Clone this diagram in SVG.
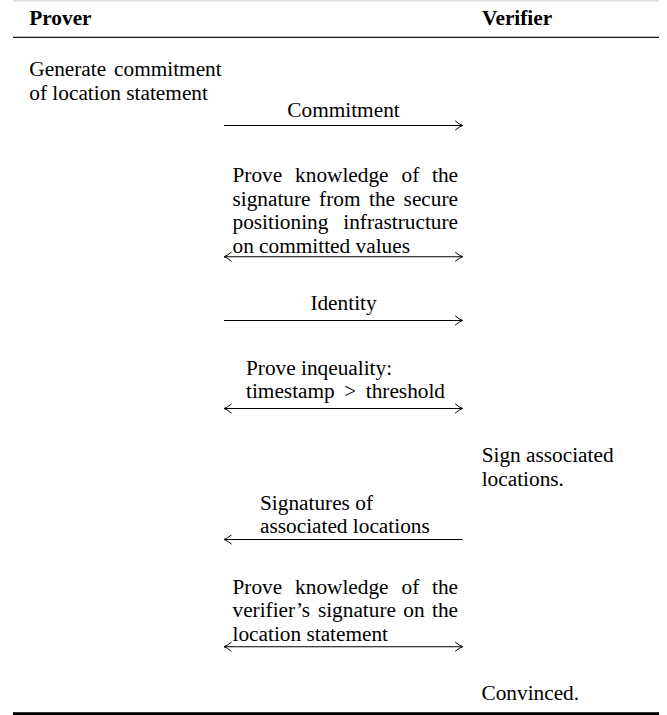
<svg xmlns="http://www.w3.org/2000/svg" width="667" height="715" viewBox="0 0 667 715">
  <style>
    text { font-family: "Liberation Serif", "Times New Roman", serif; font-size: 21.3px; fill: #000; }
    .hdr { font-weight: bold; }
    .end { text-anchor: end; }
    .mid { text-anchor: middle; }
    .conn { stroke: #000; stroke-width: 1.1; fill: none; }
  </style>
  <defs>
    <marker id="head" markerUnits="userSpaceOnUse" markerWidth="12" markerHeight="12" viewBox="-10 -6 12 12" refX="0" refY="0" orient="auto-start-reverse">
      <path d="M-7.5,-4.6 Q-3,-0.9 0,0 Q-3,0.9 -7.5,4.6" fill="none" stroke="#000" stroke-width="1"/>
    </marker>
  </defs>
  <rect x="0" y="0" width="667" height="715" fill="#fff"/>

  <!-- table rules -->
  <g id="rules">
    <rect x="13" y="0" width="646" height="1.4" fill="#dcdcdc"/>
    <rect x="13" y="36.7" width="646" height="1.3" fill="#1a1a1a"/>
    <rect x="13" y="712.2" width="646" height="2.8" fill="#000"/>
  </g>

  <g id="header-prover"><text class="hdr" x="29.3" y="25">Prover</text></g>
  <g id="header-verifier"><text class="hdr" x="482" y="25">Verifier</text></g>

  <g id="step-generate">
    <text x="29.3" y="76">Generate</text>
    <text class="end" x="221.7" y="76">commitment</text>
    <text x="29.3" y="99.6">of location statement</text>
  </g>

  <g id="msg-commitment">
    <text class="mid" x="343.5" y="116.7">Commitment</text>
  </g>

  <g id="msg-prove-signature">
    <text x="232.5" y="182">Prove</text>
    <text x="295.1" y="182">knowledge</text>
    <text x="401.5" y="182">of</text>
    <text class="end" x="458" y="182">the</text>
    <text x="232.5" y="205.6">signature</text>
    <text x="319.1" y="205.6">from</text>
    <text x="369" y="205.6">the</text>
    <text class="end" x="458" y="205.6">secure</text>
    <text x="232.5" y="229.2">positioning</text>
    <text class="end" x="458" y="229.2">infrastructure</text>
    <text x="232.5" y="252.6">on committed values</text>
  </g>

  <g id="msg-identity">
    <text class="mid" x="343.5" y="310">Identity</text>
  </g>

  <g id="msg-inequality">
    <text x="246" y="374.5">Prove inqeuality:</text>
    <text x="246" y="398">timestamp</text>
    <text class="mid" x="350.2" y="398">&gt;</text>
    <text class="end" x="445" y="398">threshold</text>
  </g>

  <g id="step-sign">
    <text x="481.7" y="461.7">Sign associated</text>
    <text x="481.7" y="485.7">locations.</text>
  </g>

  <g id="msg-signatures">
    <text x="260" y="510">Signatures of</text>
    <text x="260" y="533.3">associated locations</text>
  </g>

  <g id="msg-prove-verifier-signature">
    <text x="232.5" y="594">Prove</text>
    <text x="295.1" y="594">knowledge</text>
    <text x="401.5" y="594">of</text>
    <text class="end" x="458" y="594">the</text>
    <text x="232.5" y="617.4">verifier’s</text>
    <text x="317.9" y="617.4">signature</text>
    <text x="403.3" y="617.4">on</text>
    <text class="end" x="458" y="617.4">the</text>
    <text x="232.5" y="640.8">location statement</text>
  </g>

  <g id="step-convinced">
    <text x="481.5" y="700">Convinced.</text>
  </g>

  <g id="connectors">
    <line class="conn" x1="224" y1="125.5" x2="462.7" y2="125.5" marker-end="url(#head)"/>
    <line class="conn" x1="224" y1="256.7" x2="462.7" y2="256.7" marker-start="url(#head)" marker-end="url(#head)"/>
    <line class="conn" x1="224" y1="320.5" x2="462.7" y2="320.5" marker-end="url(#head)"/>
    <line class="conn" x1="224" y1="408.5" x2="462.7" y2="408.5" marker-start="url(#head)" marker-end="url(#head)"/>
    <line class="conn" x1="224" y1="539.5" x2="462.7" y2="539.5" marker-start="url(#head)"/>
    <line class="conn" x1="224" y1="646.7" x2="462.7" y2="646.7" marker-start="url(#head)" marker-end="url(#head)"/>
  </g>
</svg>
